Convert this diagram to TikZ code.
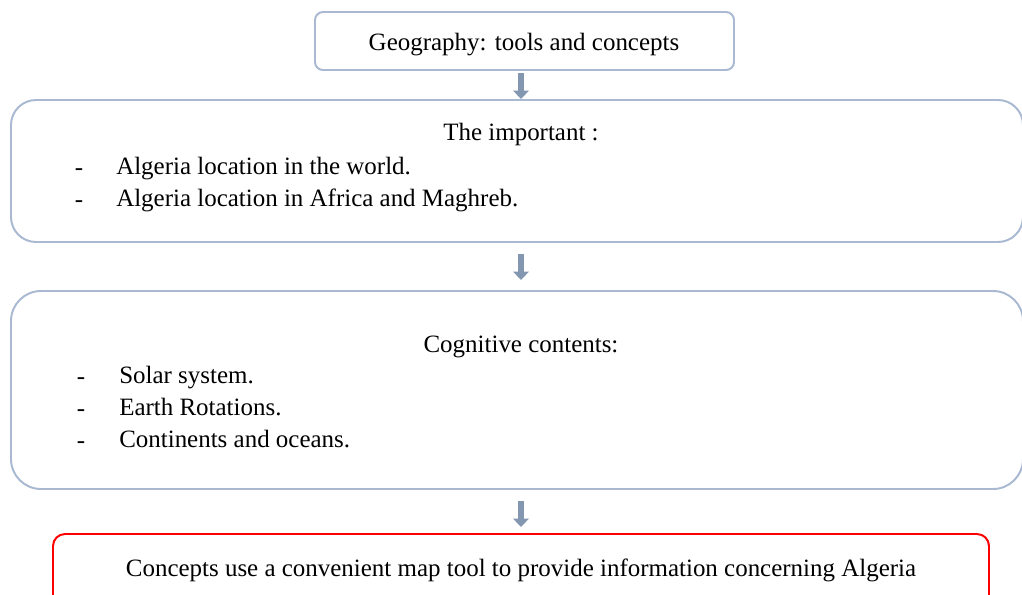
\documentclass[tikz,border=0pt]{standalone}
\usepackage{fontspec}
\setmainfont{Liberation Serif}
\usetikzlibrary{arrows.meta}
\definecolor{boxblue}{HTML}{A9B9D1}
\definecolor{arrowblue}{HTML}{8497B0}
\definecolor{boxred}{HTML}{FF0000}
\newcommand\pxu{0.025cm}
\tikzset{
  box/.style={draw=boxblue, line width=1.4pt, rounded corners=#1*\pxu, inner sep=0pt},
  redbox/.style={box=12, draw=boxred},
  txt/.style={inner sep=0pt, anchor=base, font=\fontsize{17.75}{21}\selectfont},
  item/.style={txt, anchor=base west},
  bullet/.style={txt, anchor=center},
  down/.style={draw=arrowblue, line width=4.5pt, -{Triangle[width=11pt,length=6pt]}}
}
\begin{document}
\begin{tikzpicture}[x=\pxu, y=-\pxu]
  \useasboundingbox (0,0) rectangle (1022,594);
  \clip (0,0) rectangle (1022,594);
  \node (geo) [box=8, minimum width=419*\pxu, minimum height=58*\pxu] at (524.5,41) {};
  \node (imp) [box=25, minimum width=1012*\pxu, minimum height=142*\pxu] at (517,171) {};
  \node (cog) [box=30, minimum width=1012*\pxu, minimum height=198*\pxu] at (517,390) {};
  \node (con) [redbox, minimum width=936*\pxu, minimum height=90*\pxu] at (521,579) {};
  \coordinate (axis) at (521,0);

  \node (geot) [txt] at (524,50) {Geography: tools and concepts};

  \node (impt) [txt] at (521,140) {The important :};
  \node (impd1) [bullet] at (79,172) {-};
  \node (imp1) [item] at (116,174) {Algeria location in the world.};
  \node (impd2) [bullet] at (79,204) {-};
  \node (imp2) [item] at (116,206) {Algeria location in Africa and Maghreb.};

  \node (cogt) [txt] at (521,352) {Cognitive contents:};
  \node (cogd1) [bullet] at (81,381) {-};
  \node (cog1) [item] at (119,383) {Solar system.};
  \node (cogd2) [bullet] at (81,413) {-};
  \node (cog2) [item] at (119,415) {Earth Rotations.};
  \node (cogd3) [bullet] at (81,445) {-};
  \node (cog3) [item] at (119,447) {Continents and oceans.};

  \node (cont) [txt] at (521,576) {Concepts use a convenient map tool to provide information concerning Algeria};

  \draw[down, shorten <=2*\pxu] (geo.south -| axis) -- (imp.north -| axis);
  \draw[down, shorten <=11*\pxu, shorten >=10*\pxu] (imp.south -| axis) -- (cog.north -| axis);
  \draw[down, shorten <=11*\pxu, shorten >=6*\pxu] (cog.south -| axis) -- (con.north -| axis);
\end{tikzpicture}
\end{document}
